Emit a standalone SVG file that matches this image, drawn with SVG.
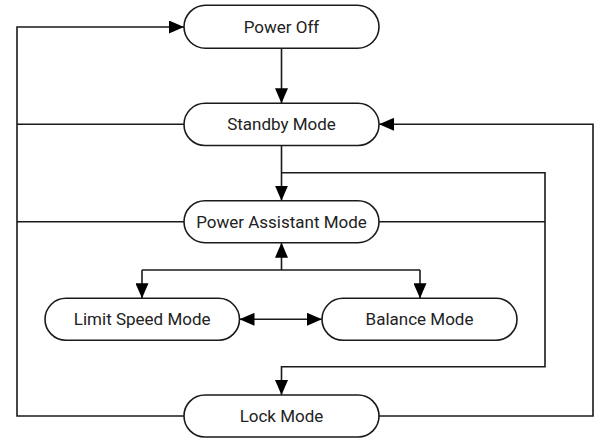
<svg xmlns="http://www.w3.org/2000/svg" width="595" height="439" viewBox="0 0 595 439">
<style>
.node rect{fill:#fff;stroke:#1a1a1a;stroke-width:1.6}
.node text{font-family:Roboto,"Liberation Sans",sans-serif;font-size:17px;fill:#222;text-anchor:middle;dominant-baseline:central}
.edge{fill:none;stroke:#1a1a1a;stroke-width:1.6}
</style>
<defs>
<marker id="ah" markerUnits="userSpaceOnUse" markerWidth="15" markerHeight="13" refX="15" refY="6.5" orient="auto-start-reverse">
<path d="M0,0 L15,6.5 L0,13 z" fill="#000"/>
</marker>
</defs>
<rect width="595" height="439" fill="#fff"/>
<g id="connectors">
<path class="edge" d="M281.5,48.3 V103.3" marker-end="url(#ah)"/>
<path class="edge" d="M281.5,145.5 V200.7" marker-end="url(#ah)"/>
<path class="edge" d="M281.5,172.7 H545 V366.7 H281.5 V395" marker-end="url(#ah)"/>
<path class="edge" d="M379,221.7 H545"/>
<path class="edge" d="M281.5,270 V242.7" marker-end="url(#ah)"/>
<path class="edge" d="M142,270 H420"/>
<path class="edge" d="M142,270 V298.3" marker-end="url(#ah)"/>
<path class="edge" d="M420,270 V298.3" marker-end="url(#ah)"/>
<path class="edge" d="M239.5,319.3 H322" marker-start="url(#ah)" marker-end="url(#ah)"/>
<path class="edge" d="M184,416 H17 V27 H184" marker-end="url(#ah)"/>
<path class="edge" d="M184,124.3 H17"/>
<path class="edge" d="M184,221.7 H17"/>
<path class="edge" d="M379,416 H593 V124.3 H379" marker-end="url(#ah)"/>
</g>
<g id="power-off" class="node"><rect x="184" y="5.3" width="195" height="43" rx="21.5"/><text x="281.5" y="26.8">Power Off</text></g>
<g id="standby" class="node"><rect x="184" y="103.3" width="195" height="42.2" rx="21.1"/><text x="281.5" y="124.4">Standby Mode</text></g>
<g id="power-assistant" class="node"><rect x="184" y="200.7" width="195" height="42" rx="21"/><text x="281.5" y="221.7">Power Assistant Mode</text></g>
<g id="limit-speed" class="node"><rect x="45" y="298.3" width="194.5" height="42" rx="21"/><text x="142.2" y="319.3">Limit Speed Mode</text></g>
<g id="balance" class="node"><rect x="322" y="298.3" width="195" height="42" rx="21"/><text x="419.5" y="319.3">Balance Mode</text></g>
<g id="lock" class="node"><rect x="184" y="395" width="195" height="42" rx="21"/><text x="281.5" y="416">Lock Mode</text></g>
</svg>
